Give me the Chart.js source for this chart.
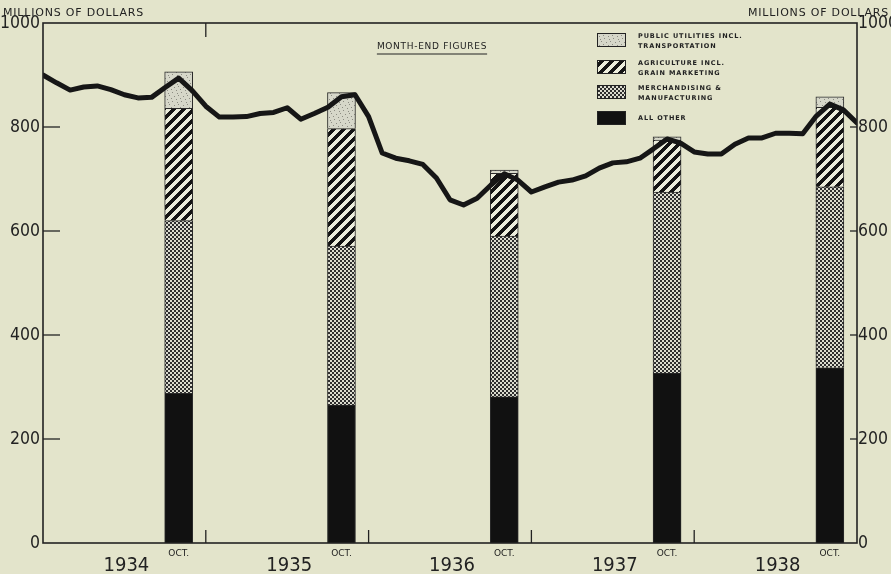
<!doctype html>
<html lang="en">
<head>
<meta charset="utf-8">
<title>Month-end figures</title>
<script src="https://cdn.jsdelivr.net/npm/chart.js@4.4.0/dist/chart.umd.min.js"></script>
<style>
  html, body { margin: 0; padding: 0; background: #e3e4cb; }
  #wrap { width: 891px; height: 574px; }
</style>
</head>
<body>
<div id="wrap"><canvas id="myChart" width="891" height="574"></canvas></div>

<script>
// month index: 0 = end of Dec 1933, 12 = end of Dec 1934, ... 60 = end of Dec 1938
const years = ['1934', '1935', '1936', '1937', '1938'];
const barMonths = [10, 22, 34, 46, 58];   // October of each year
const barLabel = 'OCT.';

// stacked components of the October bars (millions of dollars)
const allOther      = [288, 265, 281, 327, 337];
const merchandising = [332, 306, 309, 348, 348];
const agriculture   = [216, 226, 121, 100, 153];
const utilities     = [ 70,  69,   6,   6,  20];

// month-end totals, Dec 1933 .. Dec 1938
const monthlyTotal = [
  900, 885, 871, 877, 879, 872, 862, 856, 857, 876, 894, 870,
  840, 819, 819, 820, 826, 828, 837, 815, 826, 838, 858, 862,
  820, 750, 740, 735, 728, 702, 660, 650, 663, 688, 710, 698,
  675, 685, 694, 698, 706, 721, 731, 733, 740, 758, 777, 769,
  752, 748, 748, 767, 779, 779, 788, 788, 787, 821, 844, 833,
  808
];

const yTicks = [0, 200, 400, 600, 800, 1000];

const legendItems = [
  ['PUBLIC UTILITIES INCL.', 'TRANSPORTATION'],
  ['AGRICULTURE INCL.', 'GRAIN MARKETING'],
  ['MERCHANDISING &', 'MANUFACTURING'],
  ['ALL OTHER']
];

const BG = '#e3e4cb';
const INK = '#222';
const NARROW = "'Liberation Sans Narrow', 'DejaVu Sans Condensed', sans-serif";

// build a fill pattern pixel by pixel so the tiles join cleanly
function makePattern(size, pick) {
  const c = document.createElement('canvas');
  c.width = size; c.height = size;
  const g = c.getContext('2d');
  for (let y = 0; y < size; y++) {
    for (let x = 0; x < size; x++) {
      g.fillStyle = pick(x, y);
      g.fillRect(x, y, 1, 1);
    }
  }
  return g.createPattern(c, 'repeat');
}

const stripes = makePattern(10, (x, y) => ((x + y) % 10 < 5 ? '#151515' : '#eceddc'));
const checker = makePattern(4, (x, y) => ((Math.floor(x / 2) + Math.floor(y / 2)) % 2 ? '#dcdccf' : '#2e2e2e'));
const specks = [[1, 2], [5, 0], [7, 5], [3, 6], [0, 8], [6, 3]];
const stipple = makePattern(9, (x, y) => (specks.some(p => p[0] === x && p[1] === y) ? '#8c8c82' : '#d6d7c9'));
const solid = '#111';

const swatches = [stipple, stripes, checker, solid];

function barSet(label, values, fill) {
  return {
    type: 'bar',
    label: label,
    data: barMonths.map((m, k) => ({ x: m, y: values[k] })),
    backgroundColor: fill,
    borderColor: '#2a2a2a',
    borderWidth: 1,
    barThickness: 28,
    grouped: false,
    yAxisID: 'y',
    order: 1
  };
}

const data = {
  datasets: [
    {
      type: 'line',
      label: 'Total',
      data: monthlyTotal.map((v, i) => ({ x: i, y: v })),
      borderColor: '#161616',
      borderWidth: 5,
      borderJoinStyle: 'round',
      borderCapStyle: 'round',
      pointRadius: 0,
      tension: 0,
      yAxisID: 'y1',
      order: 0
    },
    barSet('All other', allOther, solid),
    barSet('Merchandising & manufacturing', merchandising, checker),
    barSet('Agriculture incl. grain marketing', agriculture, stripes),
    barSet('Public utilities incl. transportation', utilities, stipple)
  ]
};

// background, frame, inner ticks, axis titles, legend
const decor = {
  id: 'decor',
  beforeDraw(chart) {
    const ctx = chart.ctx;
    ctx.save();
    ctx.fillStyle = BG;
    ctx.fillRect(0, 0, chart.width, chart.height);
    ctx.restore();
  },
  afterDraw(chart) {
    const ctx = chart.ctx;
    const a = chart.chartArea;
    const xs = chart.scales.x, ys = chart.scales.y;
    ctx.save();

    // frame
    ctx.strokeStyle = INK;
    ctx.lineWidth = 1.6;
    ctx.strokeRect(a.left, a.top, a.right - a.left, a.bottom - a.top);

    // inward value ticks
    ctx.lineWidth = 1.3;
    yTicks.slice(1, -1).forEach(v => {
      const y = ys.getPixelForValue(v);
      ctx.beginPath(); ctx.moveTo(a.left, y); ctx.lineTo(a.left + 17, y); ctx.stroke();
      ctx.beginPath(); ctx.moveTo(a.right, y); ctx.lineTo(a.right - 7, y); ctx.stroke();
    });

    // year boundaries
    for (let k = 1; k < years.length; k++) {
      const x = xs.getPixelForValue(k * 12);
      ctx.beginPath(); ctx.moveTo(x, a.bottom); ctx.lineTo(x, a.bottom - 13); ctx.stroke();
    }
    const xt = xs.getPixelForValue(12);
    ctx.beginPath(); ctx.moveTo(xt, a.top); ctx.lineTo(xt, a.top + 14); ctx.stroke();

    // OCT. and year labels
    ctx.fillStyle = INK;
    ctx.textAlign = 'center';
    ctx.textBaseline = 'middle';
    ctx.font = "9px 'DejaVu Sans', sans-serif";
    barMonths.forEach(m => ctx.fillText(barLabel, xs.getPixelForValue(m), 554));
    ctx.font = '20px ' + NARROW;
    years.forEach((yr, k) => ctx.fillText(yr, xs.getPixelForValue(k * 12 + 6) + 2, 566));

    // unit titles
    ctx.font = "11px 'DejaVu Sans', sans-serif";
    ctx.letterSpacing = '0.8px';
    ctx.textAlign = 'left';
    ctx.fillText('MILLIONS OF DOLLARS', 3, 13);
    ctx.textAlign = 'right';
    ctx.fillText('MILLIONS OF DOLLARS', 889, 13);

    // caption
    ctx.font = "9px 'DejaVu Sans', sans-serif";
    ctx.letterSpacing = '0.7px';
    ctx.textAlign = 'center';
    const cap = 'MONTH-END FIGURES';
    const cw = ctx.measureText(cap).width;
    ctx.fillText(cap, 432, 47);
    ctx.lineWidth = 1;
    ctx.beginPath(); ctx.moveTo(432 - cw / 2, 54); ctx.lineTo(432 + cw / 2, 54); ctx.stroke();

    // legend
    const rows = [33, 60, 85, 111];
    ctx.textAlign = 'left';
    ctx.font = "bold 6.5px 'DejaVu Sans', sans-serif";
    ctx.letterSpacing = '0.9px';
    legendItems.forEach((lines, k) => {
      const y0 = rows[k];
      ctx.fillStyle = swatches[k];
      ctx.fillRect(597, y0, 29, 14);
      ctx.strokeStyle = INK;
      ctx.lineWidth = 1;
      ctx.strokeRect(597.5, y0 + 0.5, 28, 13);
      ctx.fillStyle = INK;
      if (lines.length === 2) {
        ctx.fillText(lines[0], 638, y0 + 3);
        ctx.fillText(lines[1], 638, y0 + 13);
      } else {
        ctx.fillText(lines[0], 638, y0 + 7);
      }
    });

    ctx.restore();
  }
};

const tickFont = { family: NARROW, size: 17.5 };
const plainTick = v => String(v);

const config = {
  data: data,
  options: {
    responsive: false,
    animation: false,
    layout: { padding: { top: 23, bottom: 31, left: 0, right: 0 } },
    scales: {
      x: {
        type: 'linear',
        min: 0,
        max: 60,
        offset: false,
        stacked: true,
        display: false
      },
      y: {
        position: 'left',
        stacked: true,
        min: 0,
        max: 1000,
        afterFit: s => { s.width = 43; },
        afterBuildTicks: s => { s.ticks = yTicks.map(v => ({ value: v })); },
        grid: { display: false, drawTicks: false },
        border: { display: false },
        ticks: { font: tickFont, color: INK, padding: 3, callback: plainTick }
      },
      y1: {
        position: 'right',
        min: 0,
        max: 1000,
        afterFit: s => { s.width = 34; },
        afterBuildTicks: s => { s.ticks = yTicks.map(v => ({ value: v })); },
        grid: { display: false, drawTicks: false },
        border: { display: false },
        ticks: { font: tickFont, color: INK, padding: 1, callback: plainTick }
      }
    },
    plugins: {
      legend: { display: false },
      tooltip: { enabled: false },
      title: { display: false }
    }
  },
  plugins: [decor]
};

const myChart = new Chart(document.getElementById('myChart'), config);
</script>
</body>
</html>
